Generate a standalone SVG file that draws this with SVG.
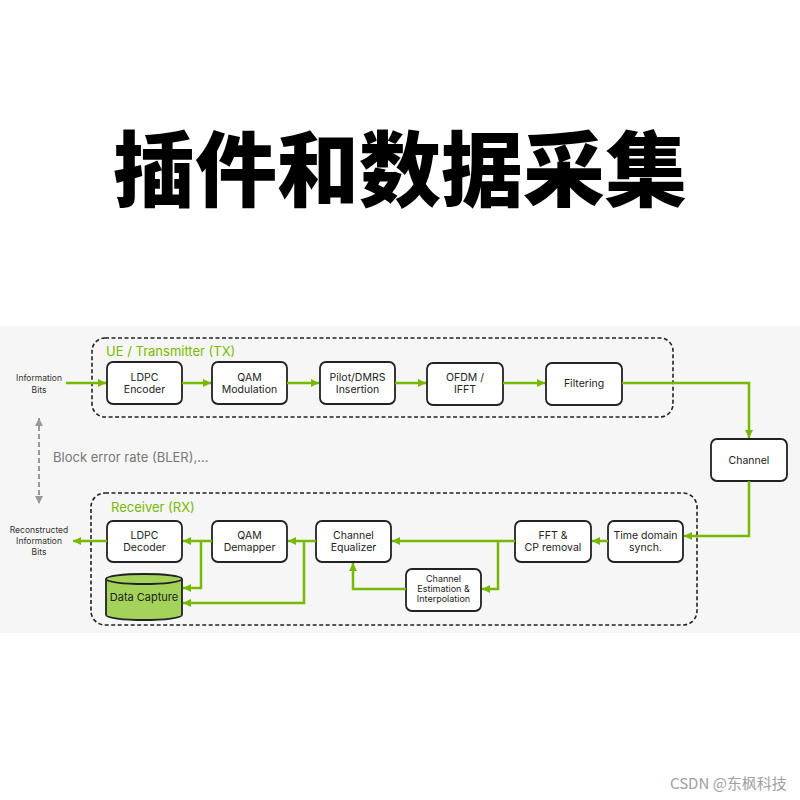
<svg xmlns="http://www.w3.org/2000/svg" width="800" height="800" viewBox="0 0 800 800">
<defs>
<style>
.bg{fill:#ffffff}
.panel{fill:#f6f6f6}
.grp{fill:none;stroke:#222;stroke-width:1.6;stroke-dasharray:4 2.5}
.box{fill:#ffffff;stroke:#222;stroke-width:1.8}
.t{font-family:Inter,"Liberation Sans",sans-serif;font-size:10.5px;fill:#222;text-anchor:middle}
.ts{font-family:Inter,"Liberation Sans",sans-serif;font-size:9px;fill:#222;text-anchor:middle}
.lbl{font-family:Inter,"Liberation Sans",sans-serif;font-size:13px;fill:#76b900}
.side{font-family:Inter,"Liberation Sans",sans-serif;font-size:8.5px;fill:#333;text-anchor:middle}
.bler{font-family:Inter,"Liberation Sans",sans-serif;font-size:13px;fill:#777}
.c{fill:none;stroke:#76b900;stroke-width:2.5;marker-end:url(#ah)}
.title{font-family:"Noto Sans CJK SC","Noto Sans",sans-serif;font-size:82px;font-weight:900;fill:#000;text-anchor:middle}
.wm{font-family:"Noto Sans CJK SC","Noto Sans",sans-serif;font-size:15px;fill:#a0a0a0}
</style>
<marker id="ah" markerUnits="userSpaceOnUse" markerWidth="9" markerHeight="9" refX="8" refY="4.5" orient="auto">
<path d="M0,0.5 L8,4.5 L0,8.5 z" fill="#76b900"/>
</marker>
<marker id="gh" markerUnits="userSpaceOnUse" markerWidth="9" markerHeight="9" refX="8" refY="4.5" orient="auto-start-reverse">
<path d="M0,0.5 L8,4.5 L0,8.5 z" fill="#999"/>
</marker>
</defs>
<rect class="bg" x="0" y="0" width="800" height="800"/>
<text class="title" x="400" y="200">插件和数据采集</text>
<rect class="panel" x="0" y="326" width="800" height="307"/>

<g id="tx-group">
<rect class="grp" x="92" y="338" width="581" height="79" rx="13"/>
<text class="lbl" x="106" y="356">UE / Transmitter (TX)</text>
</g>
<g id="rx-group">
<rect class="grp" x="91" y="493" width="606" height="132" rx="14"/>
<text class="lbl" x="111" y="512">Receiver (RX)</text>
</g>

<g id="info-bits">
<text class="side" x="39" y="381">Information</text>
<text class="side" x="39" y="393">Bits</text>
</g>
<g id="recon-bits">
<text class="side" x="39" y="533">Reconstructed</text>
<text class="side" x="39" y="544">Information</text>
<text class="side" x="39" y="555">Bits</text>
</g>
<g id="bler">
<line x1="39" y1="418" x2="39" y2="504" stroke="#999" stroke-width="2" stroke-dasharray="5 3" marker-start="url(#gh)" marker-end="url(#gh)"/>
<text class="bler" x="53" y="462">Block error rate (BLER),...</text>
</g>

<g id="ldpc-encoder">
<rect class="box" x="107" y="362" width="75" height="42" rx="6"/>
<text class="t" x="144.5" y="381">LDPC</text>
<text class="t" x="144.5" y="393">Encoder</text>
</g>
<g id="qam-modulation">
<rect class="box" x="212" y="362" width="75" height="42" rx="6"/>
<text class="t" x="249.5" y="381">QAM</text>
<text class="t" x="249.5" y="393">Modulation</text>
</g>
<g id="pilot-dmrs">
<rect class="box" x="320" y="362" width="75" height="42" rx="6"/>
<text class="t" x="357.5" y="381">Pilot/DMRS</text>
<text class="t" x="357.5" y="393">Insertion</text>
</g>
<g id="ofdm-ifft">
<rect class="box" x="427" y="363" width="76" height="42" rx="6"/>
<text class="t" x="465" y="381">OFDM /</text>
<text class="t" x="465" y="393">IFFT</text>
</g>
<g id="filtering">
<rect class="box" x="546" y="363" width="76" height="42" rx="6"/>
<text class="t" x="584" y="387">Filtering</text>
</g>
<g id="channel">
<rect class="box" x="711" y="439" width="76" height="42" rx="6"/>
<text class="t" x="749" y="464">Channel</text>
</g>

<g id="time-domain-synch">
<rect class="box" x="608" y="521" width="75" height="41" rx="6"/>
<text class="t" x="645.5" y="539">Time domain</text>
<text class="t" x="645.5" y="551">synch.</text>
</g>
<g id="fft-cp-removal">
<rect class="box" x="515" y="521" width="76" height="41" rx="6"/>
<text class="t" x="553" y="539">FFT &amp;</text>
<text class="t" x="553" y="551">CP removal</text>
</g>
<g id="channel-equalizer">
<rect class="box" x="316" y="521" width="75" height="41" rx="6"/>
<text class="t" x="353.5" y="539">Channel</text>
<text class="t" x="353.5" y="551">Equalizer</text>
</g>
<g id="channel-estimation">
<rect class="box" x="406" y="569" width="75" height="42" rx="6"/>
<text class="ts" x="443.5" y="582">Channel</text>
<text class="ts" x="443.5" y="592">Estimation &amp;</text>
<text class="ts" x="443.5" y="602">Interpolation</text>
</g>
<g id="qam-demapper">
<rect class="box" x="212" y="521" width="75" height="41" rx="6"/>
<text class="t" x="249.5" y="539">QAM</text>
<text class="t" x="249.5" y="551">Demapper</text>
</g>
<g id="ldpc-decoder">
<rect class="box" x="107" y="521" width="75" height="41" rx="6"/>
<text class="t" x="144.5" y="539">LDPC</text>
<text class="t" x="144.5" y="551">Decoder</text>
</g>
<g id="data-capture">
<path d="M106,579 A38,5 0 0 1 182,579 V615 A38,5 0 0 1 106,615 Z" fill="#a3d35b" stroke="#222" stroke-width="1.8"/>
<path d="M106,579 A38,5 0 0 0 182,579" fill="none" stroke="#222" stroke-width="1.8"/>
<text class="t" x="144" y="601" style="font-size:11px">Data Capture</text>
</g>

<g id="connectors">
<path class="c" d="M66,383 H106"/>
<path class="c" d="M182,383 H211"/>
<path class="c" d="M287,383 H319"/>
<path class="c" d="M395,383 H426"/>
<path class="c" d="M503,383 H545"/>
<path class="c" d="M622,383 H749 V438"/>
<path class="c" d="M749,481 V536 H684"/>
<path class="c" d="M608,541 H592"/>
<path class="c" d="M515,541 H392"/>
<path class="c" d="M498,541 V589 H482"/>
<path class="c" d="M406,589 H353 V563"/>
<path class="c" d="M316,541 H288"/>
<path class="c" d="M304,541 V603 H183"/>
<path class="c" d="M212,541 H183"/>
<path class="c" d="M201,541 V588 H183"/>
<path class="c" d="M107,541 H73"/>
</g>

<text class="wm" x="670" y="789">CSDN @东枫科技</text>
</svg>
